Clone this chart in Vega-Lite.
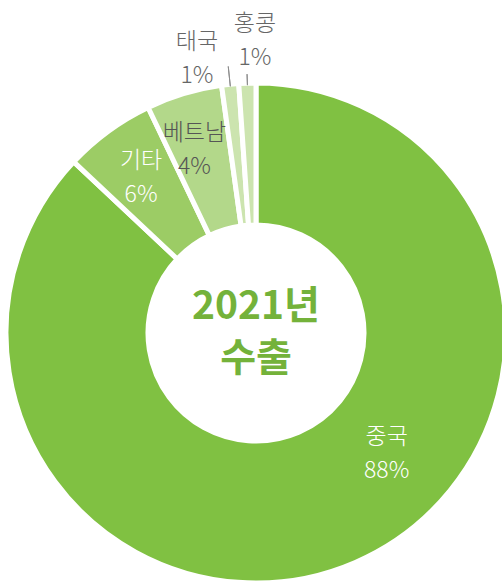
{
  "$schema": "https://vega.github.io/schema/vega-lite/v6.json",
  "width": 492,
  "height": 496,
  "autosize": "none",
  "padding": {"left": 10, "top": 85, "right": 0, "bottom": 0},
  "background": "white",
  "config": {"view": {"stroke": null}},
  "data": {
    "values": [
      {"name": "중국", "value": 87.0, "label": "중국\n88%", "order": 1},
      {"name": "기타", "value": 5.9, "label": "기타\n6%", "order": 2},
      {"name": "베트남", "value": 4.9, "label": "베트남\n4%", "order": 3},
      {"name": "태국", "value": 1.1, "label": "태국\n1%", "order": 4},
      {"name": "홍콩", "value": 1.1, "label": "홍콩\n1%", "order": 5}
    ]
  },
  "layer": [
    {
      "mark": {"type": "arc", "radius": 250, "radius2": 108, "stroke": "white", "strokeWidth": 5},
      "encoding": {
        "theta": {"field": "value", "type": "quantitative", "stack": true},
        "order": {"field": "order", "type": "quantitative"},
        "color": {
          "field": "name",
          "type": "nominal",
          "scale": {
            "domain": ["중국", "기타", "베트남", "태국", "홍콩"],
            "range": ["#80c142", "#9ccc65", "#b3d88a", "#cce4af", "#cce4af"]
          },
          "legend": null
        }
      }
    },
    {
      "mark": {"type": "arc", "radius": 268, "radius2": 248, "padAngle": 0.3, "fillOpacity": 0, "stroke": "#8c8c8c", "strokeWidth": 1},
      "encoding": {
        "theta": {"field": "value", "type": "quantitative", "stack": true},
        "order": {"field": "order", "type": "quantitative"},
        "strokeOpacity": {"condition": {"test": "datum.name === '태국'", "value": 1}, "value": 0}
      }
    },
    {
      "mark": {"type": "arc", "radius": 259, "radius2": 248, "padAngle": 0.3, "fillOpacity": 0, "stroke": "#8c8c8c", "strokeWidth": 1},
      "encoding": {
        "theta": {"field": "value", "type": "quantitative", "stack": true},
        "order": {"field": "order", "type": "quantitative"},
        "strokeOpacity": {"condition": {"test": "datum.name === '홍콩'", "value": 1}, "value": 0}
      }
    },
    {
      "mark": {"type": "text", "radius": 178, "dx": 60, "dy": -59, "fill": "white", "font": "Noto Sans CJK KR", "fontWeight": 300, "fontSize": 23, "lineBreak": "\n", "lineHeight": 34, "align": "center", "baseline": "middle"},
      "encoding": {
        "theta": {"field": "value", "type": "quantitative", "stack": true},
        "order": {"field": "order", "type": "quantitative"},
        "text": {"condition": {"test": "datum.name === '중국'", "field": "label"}, "value": ""}
      }
    },
    {
      "mark": {"type": "text", "radius": 193, "dx": -1, "dy": -16, "fill": "white", "font": "Noto Sans CJK KR", "fontWeight": 300, "fontSize": 23, "lineBreak": "\n", "lineHeight": 34, "align": "center", "baseline": "middle"},
      "encoding": {
        "theta": {"field": "value", "type": "quantitative", "stack": true},
        "order": {"field": "order", "type": "quantitative"},
        "text": {"condition": {"test": "datum.name === '기타'", "field": "label"}, "value": ""}
      }
    },
    {
      "mark": {"type": "text", "radius": 193, "dx": -6, "dy": -15, "fill": "#555555", "font": "Noto Sans CJK KR", "fontWeight": 300, "fontSize": 23, "lineBreak": "\n", "lineHeight": 34, "align": "center", "baseline": "middle"},
      "encoding": {
        "theta": {"field": "value", "type": "quantitative", "stack": true},
        "order": {"field": "order", "type": "quantitative"},
        "text": {"condition": {"test": "datum.name === '베트남'", "field": "label"}, "value": ""}
      }
    },
    {
      "mark": {"type": "text", "radius": 280, "dx": -30, "dy": -13, "fill": "#666666", "font": "Noto Sans CJK KR", "fontWeight": 300, "fontSize": 23, "lineBreak": "\n", "lineHeight": 34, "align": "center", "baseline": "middle"},
      "encoding": {
        "theta": {"field": "value", "type": "quantitative", "stack": true},
        "order": {"field": "order", "type": "quantitative"},
        "text": {"condition": {"test": "datum.name === '태국'", "field": "label"}, "value": ""}
      }
    },
    {
      "mark": {"type": "text", "radius": 292, "dx": 9, "dy": -17, "fill": "#666666", "font": "Noto Sans CJK KR", "fontWeight": 300, "fontSize": 23, "lineBreak": "\n", "lineHeight": 34, "align": "center", "baseline": "middle"},
      "encoding": {
        "theta": {"field": "value", "type": "quantitative", "stack": true},
        "order": {"field": "order", "type": "quantitative"},
        "text": {"condition": {"test": "datum.name === '홍콩'", "field": "label"}, "value": ""}
      }
    },
    {
      "data": {"values": [{"title": "2021년\n수출"}]},
      "mark": {"type": "text", "dy": -26, "fill": "#74b23a", "font": "Noto Sans CJK KR", "fontWeight": "bold", "fontSize": 39, "lineBreak": "\n", "lineHeight": 52, "align": "center", "baseline": "middle"},
      "encoding": {
        "text": {"field": "title", "type": "nominal"}
      }
    }
  ]
}
